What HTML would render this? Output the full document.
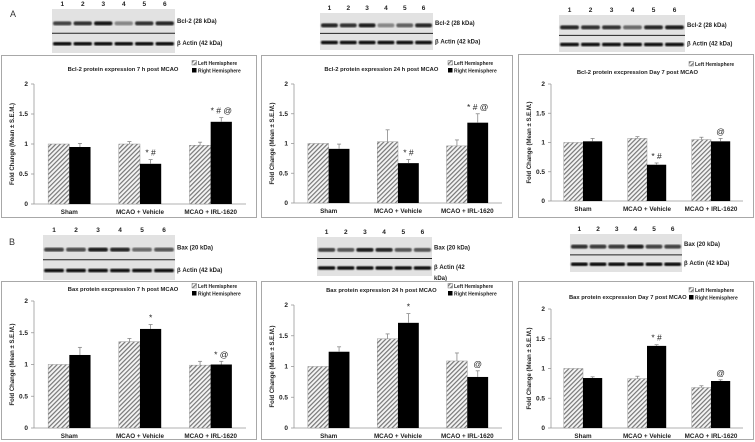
<!DOCTYPE html>
<html><head><meta charset="utf-8">
<style>
html,body{margin:0;padding:0;background:#fff;}
svg{display:block;font-family:"Liberation Sans",sans-serif;}
</style></head>
<body>
<svg id="fig" width="755" height="442" viewBox="0 0 755 442" xmlns="http://www.w3.org/2000/svg">
<defs>
<pattern id="hatch" patternUnits="userSpaceOnUse" width="3.2" height="3.2" patternTransform="rotate(45)">
<rect width="3.2" height="3.2" fill="#f4f4f4"/>
<rect width="1.2" height="3.2" fill="#777"/>
</pattern>
<filter id="blur"><feGaussianBlur stdDeviation="0.8"/></filter>
</defs>
<text x="10" y="17" font-size="9" fill="#333">A</text>
<text x="9" y="245" font-size="9" fill="#333">B</text>
</svg>
<script>
// ---- data ----
const categories = ["Sham", "MCAO + Vehicle", "MCAO + IRL-1620"];
const yTicks = [0, 0.5, 1, 1.5, 2];
const yTickLabels = ["0", "0.5", "1", "1.5", "2"];

const a1Left = [1.0, 1.0, 0.98];
const a1LeftErr = [0, 0.04, 0.05];
const a1Right = [0.95, 0.67, 1.37];
const a1RightErr = [0.06, 0.07, 0.07];
const a1Notes = ["", "* #", "* # @"];

const a2Left = [1.0, 1.03, 0.96];
const a2LeftErr = [0, 0.2, 0.1];
const a2Right = [0.91, 0.67, 1.35];
const a2RightErr = [0.08, 0.06, 0.15];
const a2Notes = ["", "* #", "* # @"];

const a3Left = [1.0, 1.07, 1.05];
const a3LeftErr = [0, 0.03, 0.04];
const a3Right = [1.02, 0.62, 1.02];
const a3RightErr = [0.05, 0.03, 0.05];
const a3Notes = ["", "* #", "@"];

const b1Left = [1.0, 1.36, 0.99];
const b1LeftErr = [0, 0.05, 0.06];
const b1Right = [1.15, 1.56, 1.0];
const b1RightErr = [0.12, 0.07, 0.05];
const b1Notes = ["", "*", "*  @"];

const b2Left = [1.0, 1.45, 1.09];
const b2LeftErr = [0, 0.08, 0.13];
const b2Right = [1.24, 1.71, 0.83];
const b2RightErr = [0.08, 0.15, 0.1];
const b2Notes = ["", "*", "@"];

const b3Left = [1.0, 0.83, 0.68];
const b3LeftErr = [0, 0.04, 0.03];
const b3Right = [0.84, 1.38, 0.79];
const b3RightErr = [0.02, 0.02, 0.02];
const b3Notes = ["", "* #", "@"];

const lanes = ["1", "2", "3", "4", "5", "6"];
const a1Bands = [0.7, 0.8, 0.95, 0.35, 0.8, 0.85];
const a2Bands = [0.85, 0.8, 0.9, 0.35, 0.55, 0.85];
const a3Bands = [0.85, 0.8, 0.8, 0.5, 0.85, 0.9];
const b1Bands = [0.7, 0.65, 0.9, 0.85, 0.5, 0.6];
const b2Bands = [0.7, 0.6, 0.9, 0.85, 0.6, 0.6];
const b3Bands = [0.8, 0.75, 0.75, 0.9, 0.7, 0.7];

const NS = "http://www.w3.org/2000/svg";
const svg = document.getElementById("fig");
function mk(tag, attrs, parent) {
  const e = document.createElementNS(NS, tag);
  for (const k in attrs) e.setAttribute(k, attrs[k]);
  (parent || svg).appendChild(e);
  return e;
}
function txt(x, y, s, size, attrs, parent) {
  const t = mk("text", Object.assign({x: x, y: y, "font-size": size, fill: "#222"}, attrs || {}), parent);
  t.textContent = s;
  return t;
}

function chart(id, cfg, left, leftErr, right, rightErr, notes, title, twoLegend) {
  const g = mk("g", {});
  
  
  const box = mk("rect", {x: cfg.bx + 0.5, y: cfg.by + 0.5, width: cfg.bw, height: cfg.bh, fill: "#fff", stroke: "#a8a8a8", "stroke-width": 1}, g);
  
  
  const ax = cfg.bx + 33, pr = cfg.bx + cfg.bw - 10;
  const yS = v => cfg.y0 + (cfg.y2 - cfg.y0) * v / 2;
  const band = (pr - ax) / categories.length;
  const bw = band * 0.3;
  const yl = mk("line", {x1: ax, y1: cfg.y2, x2: ax, y2: cfg.y0, stroke: "#999", "stroke-width": 0.8}, g);
  
  
  const xl = mk("line", {x1: ax, y1: cfg.y0, x2: pr, y2: cfg.y0, stroke: "#999", "stroke-width": 0.8}, g);
  
  
  yTicks.forEach((v, i) => {
    mk("line", {x1: ax - 3, y1: yS(v), x2: ax, y2: yS(v), stroke: "#999", "stroke-width": 0.8}, g);
    const t = txt(ax - 6, yS(v) + 2.2, yTickLabels[i], 6.5, {"text-anchor": "end", "font-weight": "bold"}, g);
    
    
  });
  const yt = txt(0, 0, "Fold Change (Mean \u00b1 S.E.M.)", 6, {"text-anchor": "middle", "font-weight": "bold", transform: "translate(" + (cfg.bx + 13) + "," + ((cfg.y0 + cfg.y2) / 2) + ") rotate(-90)"}, g);
  
  
  categories.forEach((c, i) => {
    const cx = ax + band * (i + 0.5);
    const lx = cx - bw, rx = cx;
    const lb = mk("rect", {x: lx, y: yS(left[i]), width: bw, height: yS(0) - yS(left[i]), fill: "url(#hatch)", stroke: "#888", "stroke-width": 0.4}, g);
    
    
    const rb = mk("rect", {x: rx, y: yS(right[i]), width: bw, height: yS(0) - yS(right[i]), fill: "#000"}, g);
    
    
    [[lx, left[i], leftErr[i]], [rx, right[i], rightErr[i]]].forEach(([bx, v, e]) => {
      if (e > 0) {
        const ex = bx + bw / 2;
        const el = mk("line", {x1: ex, y1: yS(v), x2: ex, y2: yS(v + e), stroke: "#888", "stroke-width": 0.8}, g);
        
        
        mk("line", {x1: ex - 2, y1: yS(v + e), x2: ex + 2, y2: yS(v + e), stroke: "#888", "stroke-width": 0.8}, g);
      }
    });
    if (notes[i]) {
      const nt = txt(rx + bw / 2, yS(right[i] + rightErr[i]) - 4, notes[i], 8.5, {"text-anchor": "middle"}, g);
      
      
    }
    const cl = txt(cx, cfg.y0 + 10, c, 6.3, {"text-anchor": "middle", "font-weight": "bold"}, g);
    
    
  });
  const tt = txt(ax + (pr - ax) * cfg.tf, cfg.titleY, title, 5.8, {"text-anchor": "middle", "font-weight": "bold"}, g);
  
  
  const lx = cfg.bx + cfg.bw - 64;
  const s1 = mk("rect", {x: lx, y: cfg.legY - 4.5, width: 4.5, height: 4.5, fill: "url(#hatch)", stroke: "#555", "stroke-width": 0.4}, g);
  
  
  const l1 = txt(lx + 6, cfg.legY, "Left Hemisphere", 5, {"font-weight": "bold"}, g);
  
  
  if (twoLegend) {
    const s2 = mk("rect", {x: lx, y: cfg.legY + 3, width: 4.5, height: 4.5, fill: "#000"}, g);
    
    
    const l2 = txt(lx + 6, cfg.legY + 7.5, "Right Hemisphere", 5, {"font-weight": "bold"}, g);
    
    
  }
}

function blot(id, b, bands, label1, label2) {
  const g = mk("g", {});
  
  
  mk("rect", {x: b.x, y: b.y + 9, width: b.w, height: b.h - 9, fill: "#e2e2e2"}, g);
  const lw = b.w / 6;
  lanes.forEach((l, i) => {
    const cx = b.x + lw * (i + 0.5);
    const ln = txt(cx, b.y + 6, l, 6.5, {"text-anchor": "middle", "font-weight": "bold"}, g);
    
    
    const shade = Math.round(200 - 190 * bands[i]);
    const bd = mk("rect", {x: cx - lw * 0.45, y: b.y + 9 + (b.h - 9) * 0.28, width: lw * 0.9, height: 4, rx: 2, fill: "rgb(" + shade + "," + shade + "," + shade + ")", filter: "url(#blur)"}, g);
    
    
    const ab = mk("rect", {x: cx - lw * 0.45, y: b.y + 9 + (b.h - 9) * 0.75, width: lw * 0.9, height: 3.5, rx: 1.5, fill: "#111", filter: "url(#blur)"}, g);
    
    
  });
  mk("line", {x1: b.x, y1: b.y + 9 + (b.h - 9) * 0.55, x2: b.x + b.w, y2: b.y + 9 + (b.h - 9) * 0.55, stroke: "#222", "stroke-width": 1}, g);
  const t1 = txt(b.x + b.w + 2, b.y + 9 + (b.h - 9) * 0.32, label1, 6, {"font-weight": "bold"}, g);
  
  
  const t2 = txt(b.x + b.w + 2, b.y + 9 + (b.h - 9) * 0.82, label2, 6, {"font-weight": "bold"}, g);
  
  
}

blot("a1", {x: 52, y: 0, w: 123, h: 53}, a1Bands, "Bcl-2 (28 kDa)", "\u03b2 Actin (42 kDa)");
blot("a2", {x: 320, y: 4, w: 113, h: 46}, a2Bands, "Bcl-2 (28 kDa)", "\u03b2 Actin (42 kDa)");
blot("a3", {x: 559, y: 6, w: 126, h: 46}, a3Bands, "Bcl-2 (28 kDa)", "\u03b2 Actin (42 kDa)");
blot("b1", {x: 43, y: 226, w: 132, h: 54}, b1Bands, "Bax (20 kDa)", "\u03b2 Actin (42 kDa)");
blot("b2", {x: 317, y: 228, w: 115, h: 48}, b2Bands, "Bax (20 kDa)", "\u03b2 Actin (42");
txt(434, 280, "kDa)", 6, {"font-weight": "bold"});
blot("b3", {x: 570, y: 225, w: 112, h: 47}, b3Bands, "Bax (20 kDa)", "\u03b2 Actin (42 kDa)");

chart("a1", {bx: 1, by: 55, bw: 255, bh: 162, y0: 204, y2: 84, titleY: 71, legY: 65, tf: 0.42}, a1Left, a1LeftErr, a1Right, a1RightErr, a1Notes, "Bcl-2 protein expression 7 h post MCAO", true);
chart("a2", {bx: 261, by: 55, bw: 251, bh: 162, y0: 203, y2: 84, titleY: 71, legY: 65, tf: 0.42}, a2Left, a2LeftErr, a2Right, a2RightErr, a2Notes, "Bcl-2 protein expression 24 h post MCAO", true);
chart("a3", {bx: 518, by: 54, bw: 235, bh: 163, y0: 201, y2: 84, titleY: 74, legY: 66, tf: 0.45}, a3Left, a3LeftErr, a3Right, a3RightErr, a3Notes, "Bcl-2 protein excpression Day 7 post MCAO", false);
chart("b1", {bx: 1, by: 281, bw: 255, bh: 158, y0: 428, y2: 301, titleY: 291, legY: 288, tf: 0.42}, b1Left, b1LeftErr, b1Right, b1RightErr, b1Notes, "Bax protein excpression 7 h post MCAO", true);
chart("b2", {bx: 261, by: 281, bw: 251, bh: 158, y0: 428, y2: 305, titleY: 292, legY: 288, tf: 0.42}, b2Left, b2LeftErr, b2Right, b2RightErr, b2Notes, "Bax protein expression 24 h post MCAO", true);
chart("b3", {bx: 518, by: 281, bw: 235, bh: 158, y0: 428, y2: 309, titleY: 299, legY: 292, tf: 0.40}, b3Left, b3LeftErr, b3Right, b3RightErr, b3Notes, "Bax protein excpression Day 7 post MCAO", true);
</script>
</body></html>
